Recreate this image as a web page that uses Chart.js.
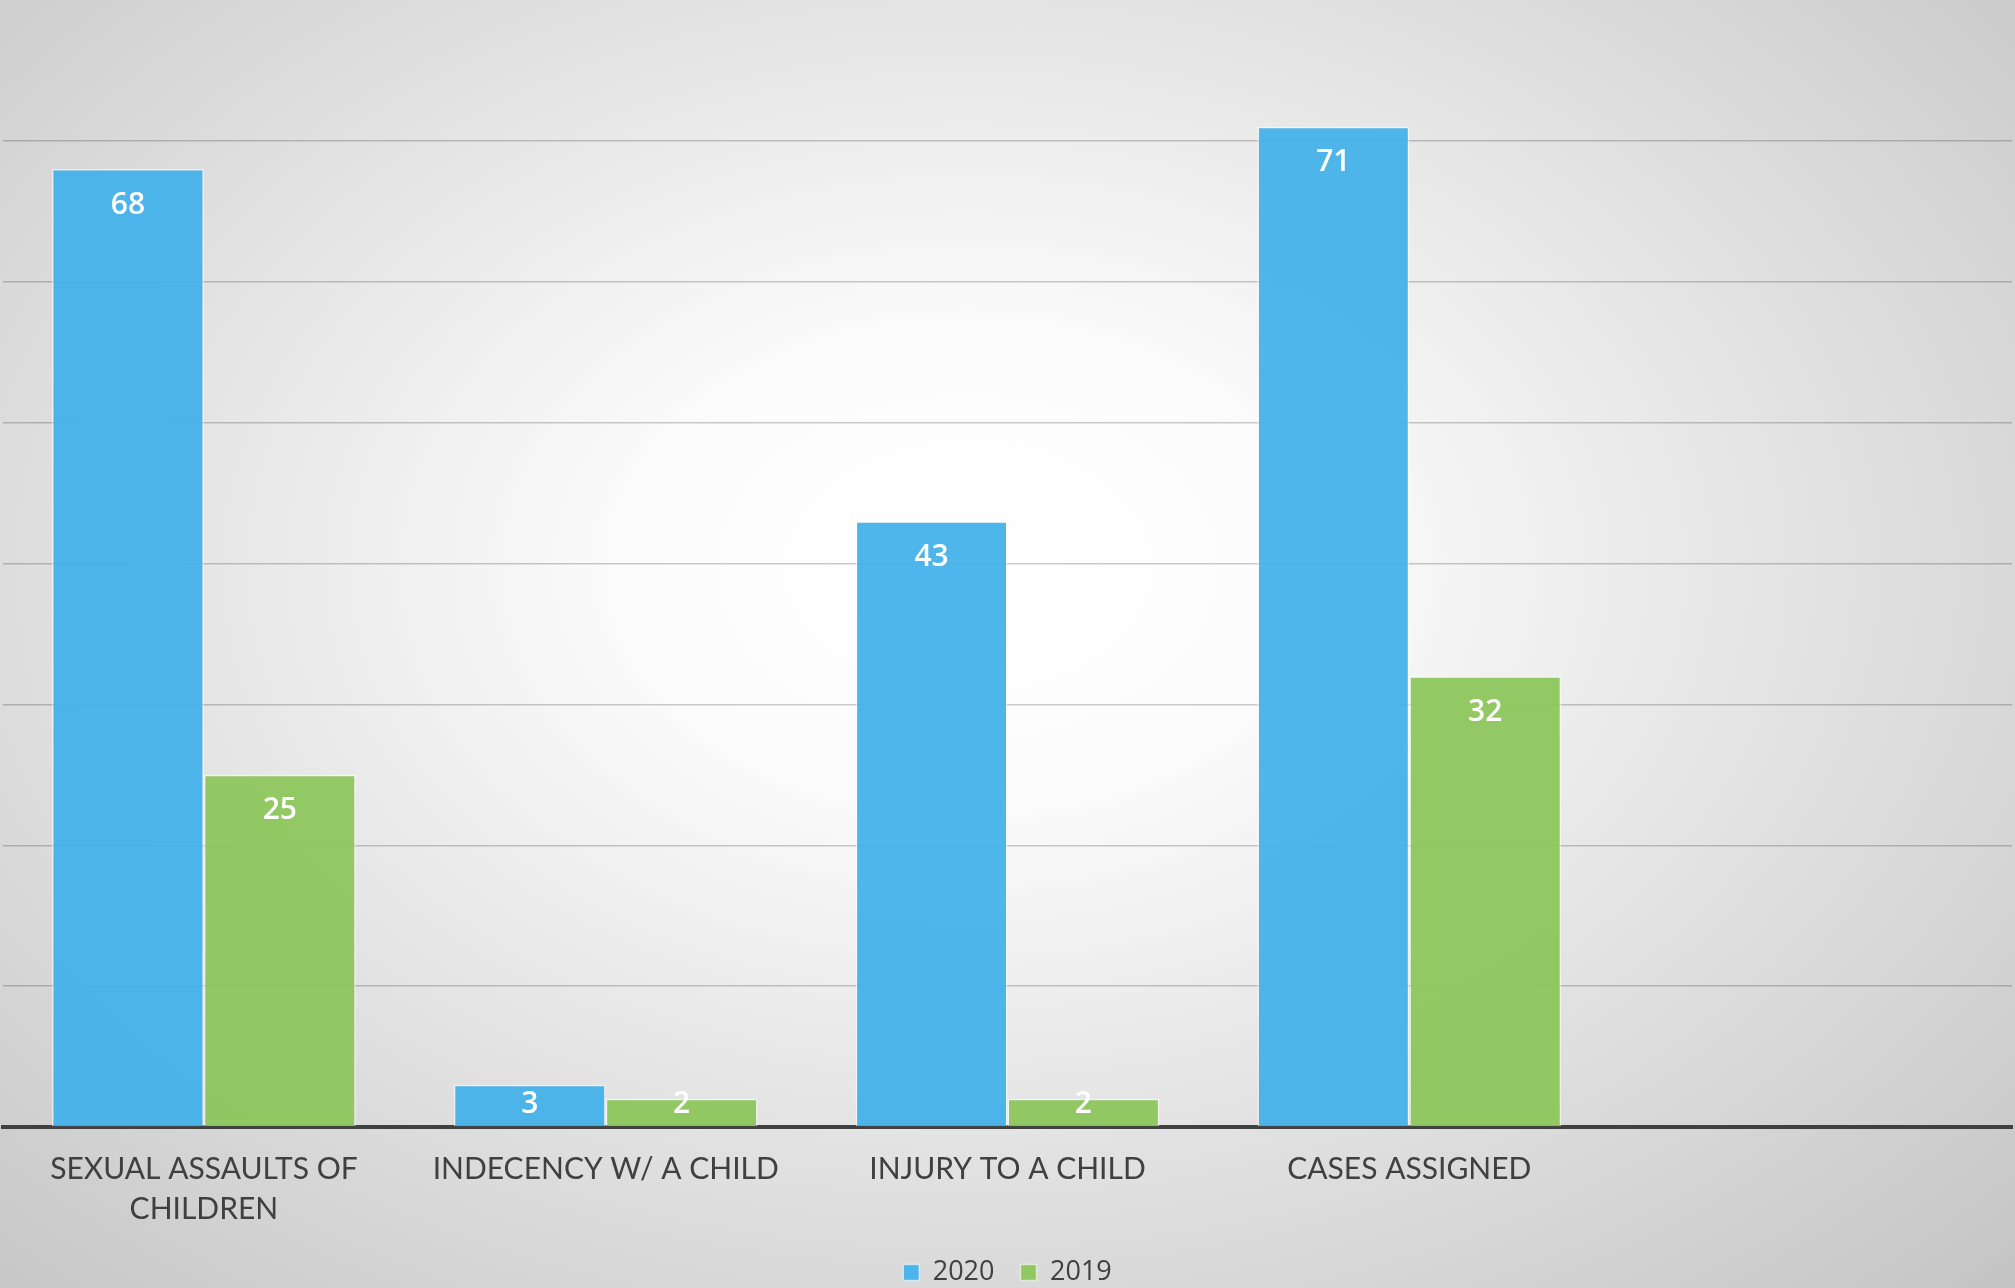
<!DOCTYPE html>
<html>
<head>
<meta charset="utf-8">
<script src="https://cdn.jsdelivr.net/npm/chart.js@4/dist/chart.umd.min.js"></script>
<style>
  html, body { margin: 0; padding: 0; width: 2015px; height: 1288px; overflow: hidden; }
  body { background: radial-gradient(ellipse farthest-corner at 48% 44%, #ffffff 0%, #fcfcfc 22%, #e4e4e4 55%, #c4c4c4 100%); }
  #wrap { position: relative; width: 2015px; height: 1288px; }
  canvas { display: block; }
</style>
</head>
<body>
<div id="wrap"><canvas id="c" width="2015" height="1288"></canvas></div>
<script>
const categories = [['SEXUAL ASSAULTS OF', 'CHILDREN'], 'INDECENCY W/ A CHILD', 'INJURY TO A CHILD', 'CASES ASSIGNED', ''];
const series2020 = [68, 3, 43, 71, null];
const series2019 = [25, 2, 2, 32, null];
const seriesNames = ['2020', '2019'];
const yMax = 80;
const yStep = 10;

const valueLabels = {
  id: 'valueLabels',
  afterDatasetsDraw(chart) {
    const ctx = chart.ctx;
    const base = chart.scales.y.getPixelForValue(0);
    ctx.save();
    ctx.fillStyle = '#ffffff';
    ctx.font = '600 30px "Open Sans"';
    ctx.textAlign = 'center';
    ctx.textBaseline = 'middle';
    chart.data.datasets.forEach((ds, i) => {
      const meta = chart.getDatasetMeta(i);
      meta.data.forEach((bar, j) => {
        const v = ds.data[j];
        if (v === null || v === undefined) return;
        const y = Math.min(bar.y + 36, base - 23);
        ctx.fillText(String(v), bar.x, y);
      });
    });
    ctx.restore();
  }
};

new Chart(document.getElementById('c'), {
  type: 'bar',
  data: {
    labels: categories,
    datasets: [
      { label: seriesNames[0], data: series2020, backgroundColor: 'rgba(66,176,234,0.93)', borderColor: 'rgba(255,255,255,0.55)', borderWidth: 1.5 },
      { label: seriesNames[1], data: series2019, backgroundColor: 'rgba(139,198,90,0.93)', borderColor: 'rgba(255,255,255,0.55)', borderWidth: 1.5 }
    ]
  },
  options: {
    responsive: false,
    animation: false,
    devicePixelRatio: 1,
    layout: { padding: { left: 3, right: 3, top: 0, bottom: -8 } },
    datasets: { bar: { categoryPercentage: 0.756, barPercentage: 1.0 } },
    scales: {
      x: {
        grid: { display: false },
        border: { display: true, color: '#404040', width: 4 },
        ticks: { color: '#404040', font: { family: 'Lato', size: 30, lineHeight: 1.35 }, padding: 14, maxRotation: 0, autoSkip: false },
        afterFit(scale) { scale.height = 106; }
      },
      y: {
        min: 0, max: yMax,
        ticks: { display: false, stepSize: yStep },
        grid: { drawTicks: false, lineWidth: 1.5, color: (c) => (c.tick && c.tick.value === yMax) ? 'rgba(0,0,0,0)' : 'rgba(0,0,0,0.2)' },
        border: { display: false }
      }
    },
    plugins: {
      legend: {
        position: 'bottom',
        labels: { color: '#404040', font: { family: 'Open Sans', size: 27 }, boxWidth: 16, boxHeight: 16, padding: 26 }
      },
      tooltip: { enabled: false }
    }
  },
  plugins: [valueLabels]
});
</script>
</body>
</html>
